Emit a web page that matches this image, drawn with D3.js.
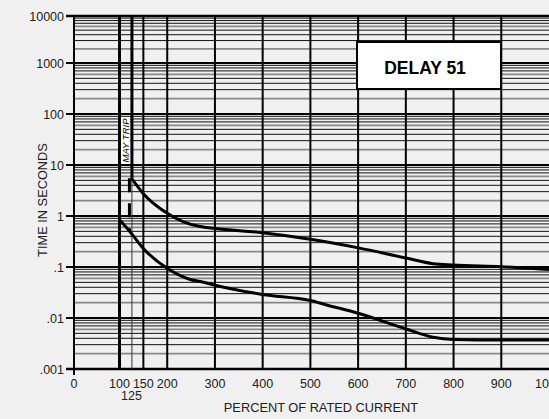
<!DOCTYPE html>
<html>
<head>
<meta charset="utf-8">
<script src="https://cdn.jsdelivr.net/npm/d3@7"></script>
<style>
  body { margin: 0; background: #f0f0f0; }
  svg { display: block; font-family: "Liberation Sans", Arial, sans-serif; }
</style>
</head>
<body>
<div id="chart"></div>
<script>
var width  = 549,
    height = 419;

// data
var xTicks    = [0, 100, 150, 200, 300, 400, 500, 600, 700, 800, 900, 1000];
var xGrid     = [100, 125, 150, 200, 300, 400, 500, 600, 700, 800, 900];
var yDecades  = [0.001, 0.01, 0.1, 1, 10, 100, 1000, 10000];
var yLabels   = [".001", ".01", ".1", "1", "10", "100", "1000", "10000"];
var minorSteps = [2, 3, 4, 5, 6, 7, 8, 9];
var graySteps  = [2, 6];

var upperCurve = [
    [125, 5.5], [149, 2.8], [200, 1.13], [234, 0.77], [269, 0.62],
    [300, 0.57], [400, 0.47], [500, 0.35], [598, 0.24], [700, 0.15],
    [757, 0.116], [800, 0.109], [900, 0.101], [1000, 0.089]
];
var lowerCurve = [
    [100, 0.84], [122, 0.49], [149, 0.236], [200, 0.094], [248, 0.057],
    [269, 0.052], [300, 0.044], [400, 0.029], [500, 0.022], [534, 0.018],
    [600, 0.0124], [700, 0.0061], [757, 0.0042], [800, 0.0038],
    [900, 0.0037], [1000, 0.0037]
];

var x = d3.scaleLinear()
    .domain([0, 100, 1000])
    .range([74, 119.5, 549]);

var y = d3.scaleLog()
    .domain([0.001, 1000, 10000])
    .range([369, 63, 16]);

var svg = d3.select("#chart").append("svg")
    .attr("width", width)
    .attr("height", height);

svg.append("rect")
    .attr("width", width).attr("height", height)
    .attr("fill", "#f0f0f0");

// horizontal minor lines
var minors = [];
yDecades.slice(0, -1).forEach(function(d) {
    minorSteps.forEach(function(s) {
        minors.push({ v: d * s, gray: graySteps.indexOf(s) >= 0 });
    });
});

svg.append("g").selectAll("line")
    .data(minors)
    .enter().append("line")
    .attr("x1", x(0)).attr("x2", width)
    .attr("y1", function(d) { return y(d.v); })
    .attr("y2", function(d) { return y(d.v); })
    .attr("stroke", function(d) { return d.gray ? "#888" : "#111"; })
    .attr("stroke-width", function(d) { return d.gray ? 1.8 : 1; });

// decade lines + ticks
svg.append("g").selectAll("line")
    .data(yDecades)
    .enter().append("line")
    .attr("x1", x(0) - 8).attr("x2", width)
    .attr("y1", function(d) { return y(d); })
    .attr("y2", function(d) { return y(d); })
    .attr("stroke", "#000")
    .attr("stroke-width", function(d, i) { return (i == 0 || i == yDecades.length - 1) ? 2.6 : 2; });

svg.append("g").selectAll("text")
    .data(yDecades)
    .enter().append("text")
    .attr("x", x(0) - 10)
    .attr("y", function(d) { return y(d) + 4.5; })
    .attr("text-anchor", "end")
    .attr("font-size", "12.5px")
    .attr("fill", "#222")
    .text(function(d, i) { return yLabels[i]; });

// vertical grid
svg.append("line")
    .attr("x1", x(0)).attr("x2", x(0))
    .attr("y1", y(10000)).attr("y2", y(0.001) + 6)
    .attr("stroke", "#000").attr("stroke-width", 2);

svg.append("g").selectAll("line")
    .data(xGrid.filter(function(d) { return d != 125; }))
    .enter().append("line")
    .attr("x1", function(d) { return x(d); })
    .attr("x2", function(d) { return x(d); })
    .attr("y1", y(10000)).attr("y2", y(0.001) + 1)
    .attr("stroke", "#000")
    .attr("stroke-width", function(d) { return d == 100 ? 3 : 2; });

// 125 line: thick above curve start, thin below, dashed to lower curve
var startY = y(upperCurve[0][1]);
svg.append("line")
    .attr("x1", x(125) + 0.5).attr("x2", x(125) + 0.5)
    .attr("y1", y(10000)).attr("y2", startY)
    .attr("stroke", "#000").attr("stroke-width", 3);
svg.append("line")
    .attr("x1", x(125) + 0.5).attr("x2", x(125) + 0.5)
    .attr("y1", startY).attr("y2", y(0.001))
    .attr("stroke", "#333").attr("stroke-width", 1);
svg.append("line")
    .attr("x1", x(125) - 2).attr("x2", x(125) - 2)
    .attr("y1", startY).attr("y2", y(0.5))
    .attr("stroke", "#000").attr("stroke-width", 3)
    .attr("stroke-dasharray", "14,11");

// MAY TRIP label
svg.append("rect")
    .attr("x", x(100) + 1.5).attr("y", 117)
    .attr("width", x(125) - x(100) - 3).attr("height", 47)
    .attr("fill", "#fff");
svg.append("text")
    .attr("transform", "translate(" + ((x(100) + x(125)) / 2 + 3.5) + ",140.5) rotate(-90)")
    .attr("text-anchor", "middle")
    .attr("font-size", "9.5px")
    .attr("font-style", "italic")
    .attr("fill", "#000")
    .text("MAY TRIP");

// curves
var line = d3.line()
    .x(function(d) { return x(d[0]); })
    .y(function(d) { return y(d[1]); })
    .curve(d3.curveMonotoneX);

svg.append("path")
    .datum(upperCurve)
    .attr("d", line)
    .attr("fill", "none").attr("stroke", "#000").attr("stroke-width", 3);
svg.append("path")
    .datum(lowerCurve)
    .attr("d", line)
    .attr("fill", "none").attr("stroke", "#000").attr("stroke-width", 3);

// x labels
svg.append("g").selectAll("text")
    .data(xTicks)
    .enter().append("text")
    .attr("x", function(d) { return x(d); })
    .attr("y", 387.5)
    .attr("text-anchor", "middle")
    .attr("font-size", "12.5px")
    .attr("fill", "#222")
    .text(function(d) { return d; });
svg.append("text")
    .attr("x", x(125)).attr("y", 400)
    .attr("text-anchor", "middle")
    .attr("font-size", "12.5px")
    .attr("fill", "#222")
    .text("125");

// axis titles
svg.append("text")
    .attr("x", 321).attr("y", 412)
    .attr("text-anchor", "middle")
    .attr("font-size", "12.8px")
    .attr("fill", "#222")
    .text("PERCENT OF RATED CURRENT");
svg.append("text")
    .attr("transform", "translate(47,200) rotate(-90)")
    .attr("text-anchor", "middle")
    .attr("font-size", "12.8px")
    .attr("fill", "#222")
    .text("TIME IN SECONDS");

// DELAY 51 box
svg.append("rect")
    .attr("x", 357).attr("y", 42)
    .attr("width", 144).attr("height", 47)
    .attr("fill", "#fff").attr("stroke", "#000").attr("stroke-width", 2);
svg.append("text")
    .attr("x", 425).attr("y", 74)
    .attr("text-anchor", "middle")
    .attr("font-size", "17.5px")
    .attr("font-weight", "bold")
    .attr("fill", "#000")
    .text("DELAY 51");
</script>
</body>
</html>
